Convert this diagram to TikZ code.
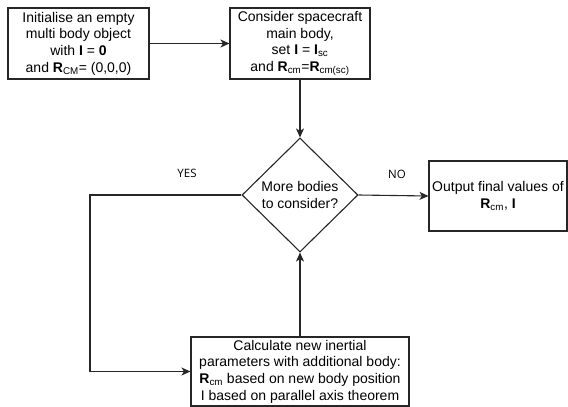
\documentclass[tikz,border=0pt]{standalone}
\usepackage{fontspec}
\setmainfont{Liberation Sans}
\newfontfamily\lblfont{Open Sans}
\usetikzlibrary{shapes.geometric,arrows.meta}
\newcommand{\Rsub}[1]{\textbf{R}\textsubscript{#1}}
\begin{document}
\begin{tikzpicture}[x=1pt,y=-1pt,
  every node/.style={font=\fontsize{14}{16.7}\selectfont, text=black},
  box/.style={draw=black!85, line width=1.1pt, align=center, inner sep=0pt},
  dia/.style={draw=black!85, line width=1.1pt, diamond, aspect=1, inner sep=0pt, align=center},
  conn/.style={line width=1.1pt, draw=black!85, -{Stealth[length=9pt,width=8pt,inset=2.5pt]}},
  lbl/.style={font=\lblfont\fontsize{11.5}{13}\selectfont}]
\useasboundingbox (0,0) rectangle (568,407);
\node[box, minimum width=141pt, minimum height=71pt] (b1) at (78.5,43.5)
  {Initialise an empty\\multi body object\\with \textbf{I} = \textbf{0}\\and \Rsub{CM}= (0,0,0)};
\node[box, minimum width=140pt, minimum height=71pt] (b2) at (300,43.5)
  {Consider spacecraft\\main body,\\set \textbf{I} = \textbf{I}\textsubscript{sc}\\and \Rsub{cm}=\Rsub{cm(sc)}};
\node[dia, minimum width=116pt, minimum height=114pt] (d) at (300,195)
  {More bodies\\to consider?};
\node[box, minimum width=138pt, minimum height=70pt] (out) at (498,196)
  {Output final values of\\\Rsub{cm}, \textbf{I}};
\node[box, minimum width=218pt, minimum height=69pt] (calc) at (300,371.5)
  {Calculate new inertial\\parameters with additional body:\\\Rsub{cm} based on new body position\\I based on parallel axis theorem};
\coordinate (lp) at (90,195);
\draw[conn] (b1.east) -- (b2.west);
\draw[conn] (b2.south) -- (d.north);
\draw[conn] (d.east) -- (out.west);
\draw[conn] (d.west) -- (lp) |- (calc.west);
\draw[conn] (calc.north) -- (d.south);
\node[lbl] (yes) at (187,173) {YES};
\node[lbl] (no) at (397,174) {NO};
\end{tikzpicture}
\end{document}
